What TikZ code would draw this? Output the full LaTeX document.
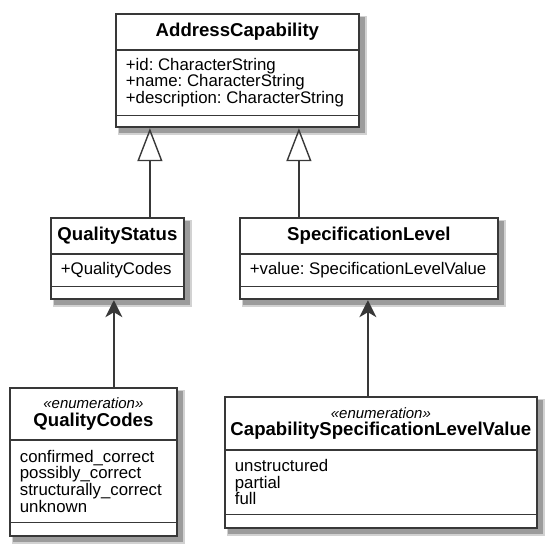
\documentclass[tikz,border=0pt]{standalone}
\usepackage{fontspec}
\setmainfont{Liberation Sans}
\usetikzlibrary{shapes.multipart}
\usetikzlibrary{arrows.meta}
\usetikzlibrary{backgrounds}
\definecolor{linegray}{HTML}{383838}
\definecolor{shadegray}{HTML}{9C9C9C}
\frenchspacing
\newcommand{\cname}[1]{{\fontsize{18.6}{19}\selectfont\bfseries #1}}
\newcommand{\stereo}[1]{{\fontsize{15}{16}\selectfont\itshape «#1»}\\}
\newcommand{\chead}[3]{\parbox[c][#1pt][c]{#2pt}{\centering
                      \fontsize{16}{17.5}\selectfont #3}}
\newcommand{\cattr}[3]{\parbox[c][#1pt][c]{#2pt}{\raggedright\leftskip=10pt
                      \fontsize{16.8}{16.7}\selectfont #3}}
\newcommand{\cnone}[2]{\parbox[c][#1pt][c]{#2pt}{\mbox{}}}

\begin{document}
\begin{tikzpicture}[x=1pt,y=-1pt,
  cls/.style={rectangle split,rectangle split parts=3,draw=linegray,
              line width=1.8pt,fill=white,inner sep=0pt,anchor=north west},
  shade/.style={fill=shadegray!45},
  shadein/.style={fill=shadegray},
  gen/.style={draw=linegray,line width=1.4pt,
              -{Triangle[open,length=33pt,width=25pt,line width=1.4pt]}},
  assoc/.style={draw=linegray,line width=1.4pt,
              -{Stealth[length=17pt,width=17pt,inset=5pt]}}]
 \useasboundingbox (0,0) rectangle (552,546);

 \node[cls] (ac) at (115,13)
   {\chead{34}{243}{\cname{AddressCapability}}
    \nodepart{two}\cattr{64}{243}{+id: CharacterString\\
                                  +name: CharacterString\\
                                  +description: CharacterString}
    \nodepart{three}\cnone{10}{243}};

 \node[cls] (qs) at (50,217)
   {\chead{34}{133}{\cname{QualityStatus}}
    \nodepart{two}\cattr{31}{133}{+QualityCodes}
    \nodepart{three}\cnone{11}{133}};

 \node[cls] (sl) at (239,217)
   {\chead{34}{258}{\cname{SpecificationLevel}}
    \nodepart{two}\cattr{31}{258}{+value: SpecificationLevelValue}
    \nodepart{three}\cnone{11}{258}};

 \node[cls] (qc) at (9,387)
   {\chead{50}{167}{\stereo{enumeration}\cname{QualityCodes}}
    \nodepart{two}\cattr{81}{167}{confirmed\_correct\\
                                  possibly\_correct\\
                                  structurally\_correct\\
                                  unknown}
    \nodepart{three}\cnone{12}{167}};

 \node[cls] (cslv) at (224,396)
   {\chead{51}{312}{\stereo{enumeration}\cname{CapabilitySpecificationLevelValue}}
    \nodepart{two}\cattr{63}{312}{unstructured\\
                                  partial\\
                                  full}
    \nodepart{three}\cnone{12}{312}};

 % shadows behind the boxes
 \begin{scope}[on background layer]
  \foreach \c in {ac,qs,sl,qc,cslv} {
   \fill[shade] ([shift={(3,3)}]\c.north west) rectangle ([shift={(7,7)}]\c.south east);
   \fill[shadein] ([shift={(4,4)}]\c.north west) rectangle ([shift={(5,5)}]\c.south east);
  }
 \end{scope}

 % generalisations
 \draw[gen] ([xshift=32.5pt]qs.north) -- ([xshift=32.5pt]qs.north |- ac.south);
 \draw[gen] ([xshift=-70pt]sl.north) -- ([xshift=-70pt]sl.north |- ac.south);

 % associations
 \draw[assoc] ([xshift=20.5pt]qc.north) -- ([xshift=20.5pt]qc.north |- qs.south);
 \draw[assoc] ([xshift=-13pt]cslv.north) -- ([xshift=-13pt]cslv.north |- sl.south);

\end{tikzpicture}
\end{document}
